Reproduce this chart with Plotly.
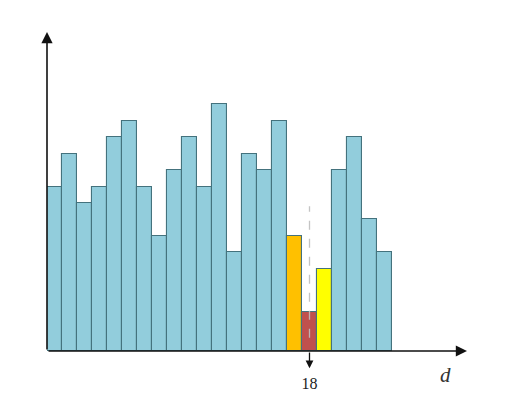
import plotly.graph_objects as go

# ─── Data ─────────────────────────────────────────────────────────────────────

positions = list(range(1, 24))
heights = [10, 12, 9, 10, 13, 14, 10, 7, 11, 13, 10, 15, 6, 12, 11, 14,
           7, 2.4, 5, 11, 13, 8, 6]
special = {17: "#FFC000", 18: "#C0504D", 19: "#FFFF00"}
marked_pos = 18
tick_labels = ["18"]

BAR_COLOR = "#92CDDC"
EDGE_COLOR = "#44727D"

colors = [special.get(p, BAR_COLOR) for p in positions]

X_MAX = 28.5
Y_MAX = 19.4

fig = go.Figure()

fig.add_trace(go.Bar(
    x=positions, y=heights,
    width=1.0,
    marker=dict(color=colors, line=dict(color=EDGE_COLOR, width=1.1)),
    showlegend=False,
))

# dashed marker line through the lowest bar
fig.add_shape(
    type="line", xref="x", yref="y",
    x0=marked_pos, x1=marked_pos, y0=0.8, y1=8.8,
    line=dict(color="rgba(190,190,190,0.9)", width=1.3, dash="dash"),
    layer="above",
)

# axes with arrowheads
fig.add_annotation(x=X_MAX, y=0, ax=0.5, ay=0, xref="x", yref="y",
                   axref="x", ayref="y", showarrow=True, arrowhead=2,
                   arrowsize=1.4, arrowwidth=1.6, arrowcolor="#111111", text="")
fig.add_annotation(x=0.5, y=Y_MAX, ax=0.5, ay=0, xref="x", yref="y",
                   axref="x", ayref="y", showarrow=True, arrowhead=2,
                   arrowsize=1.4, arrowwidth=1.6, arrowcolor="#111111", text="")
# down arrow under the marked bar
fig.add_annotation(x=marked_pos, y=-1.05, ax=marked_pos, ay=0, xref="x", yref="y",
                   axref="x", ayref="y", showarrow=True, arrowhead=2,
                   arrowsize=1.2, arrowwidth=1.3, arrowcolor="#111111", text="")

fig.add_annotation(x=0.948, y=-0.075, xref="paper", yref="paper", text="<i>d</i>",
                   xanchor="center", yanchor="middle", showarrow=False,
                   font=dict(family="Liberation Serif", size=21, color="#333333"))

# page body has an 8px default margin, so the figure is shrunk by that
fig.update_layout(
    width=497, height=410,
    paper_bgcolor="white", plot_bgcolor="white",
    margin=dict(l=39, r=38, t=24, b=67),
    bargap=0,
    xaxis=dict(
        range=[0.5, X_MAX], showgrid=False, zeroline=False, showline=False,
        tickmode="array", tickvals=[marked_pos], ticktext=tick_labels,
        ticks="", ticklabelstandoff=21,
        tickfont=dict(family="Liberation Serif", size=16, color="#222222"),
    ),
    yaxis=dict(
        range=[0, Y_MAX], showgrid=False, zeroline=False, showline=False,
        showticklabels=False,
    ),
)

fig.write_html("out.html")
